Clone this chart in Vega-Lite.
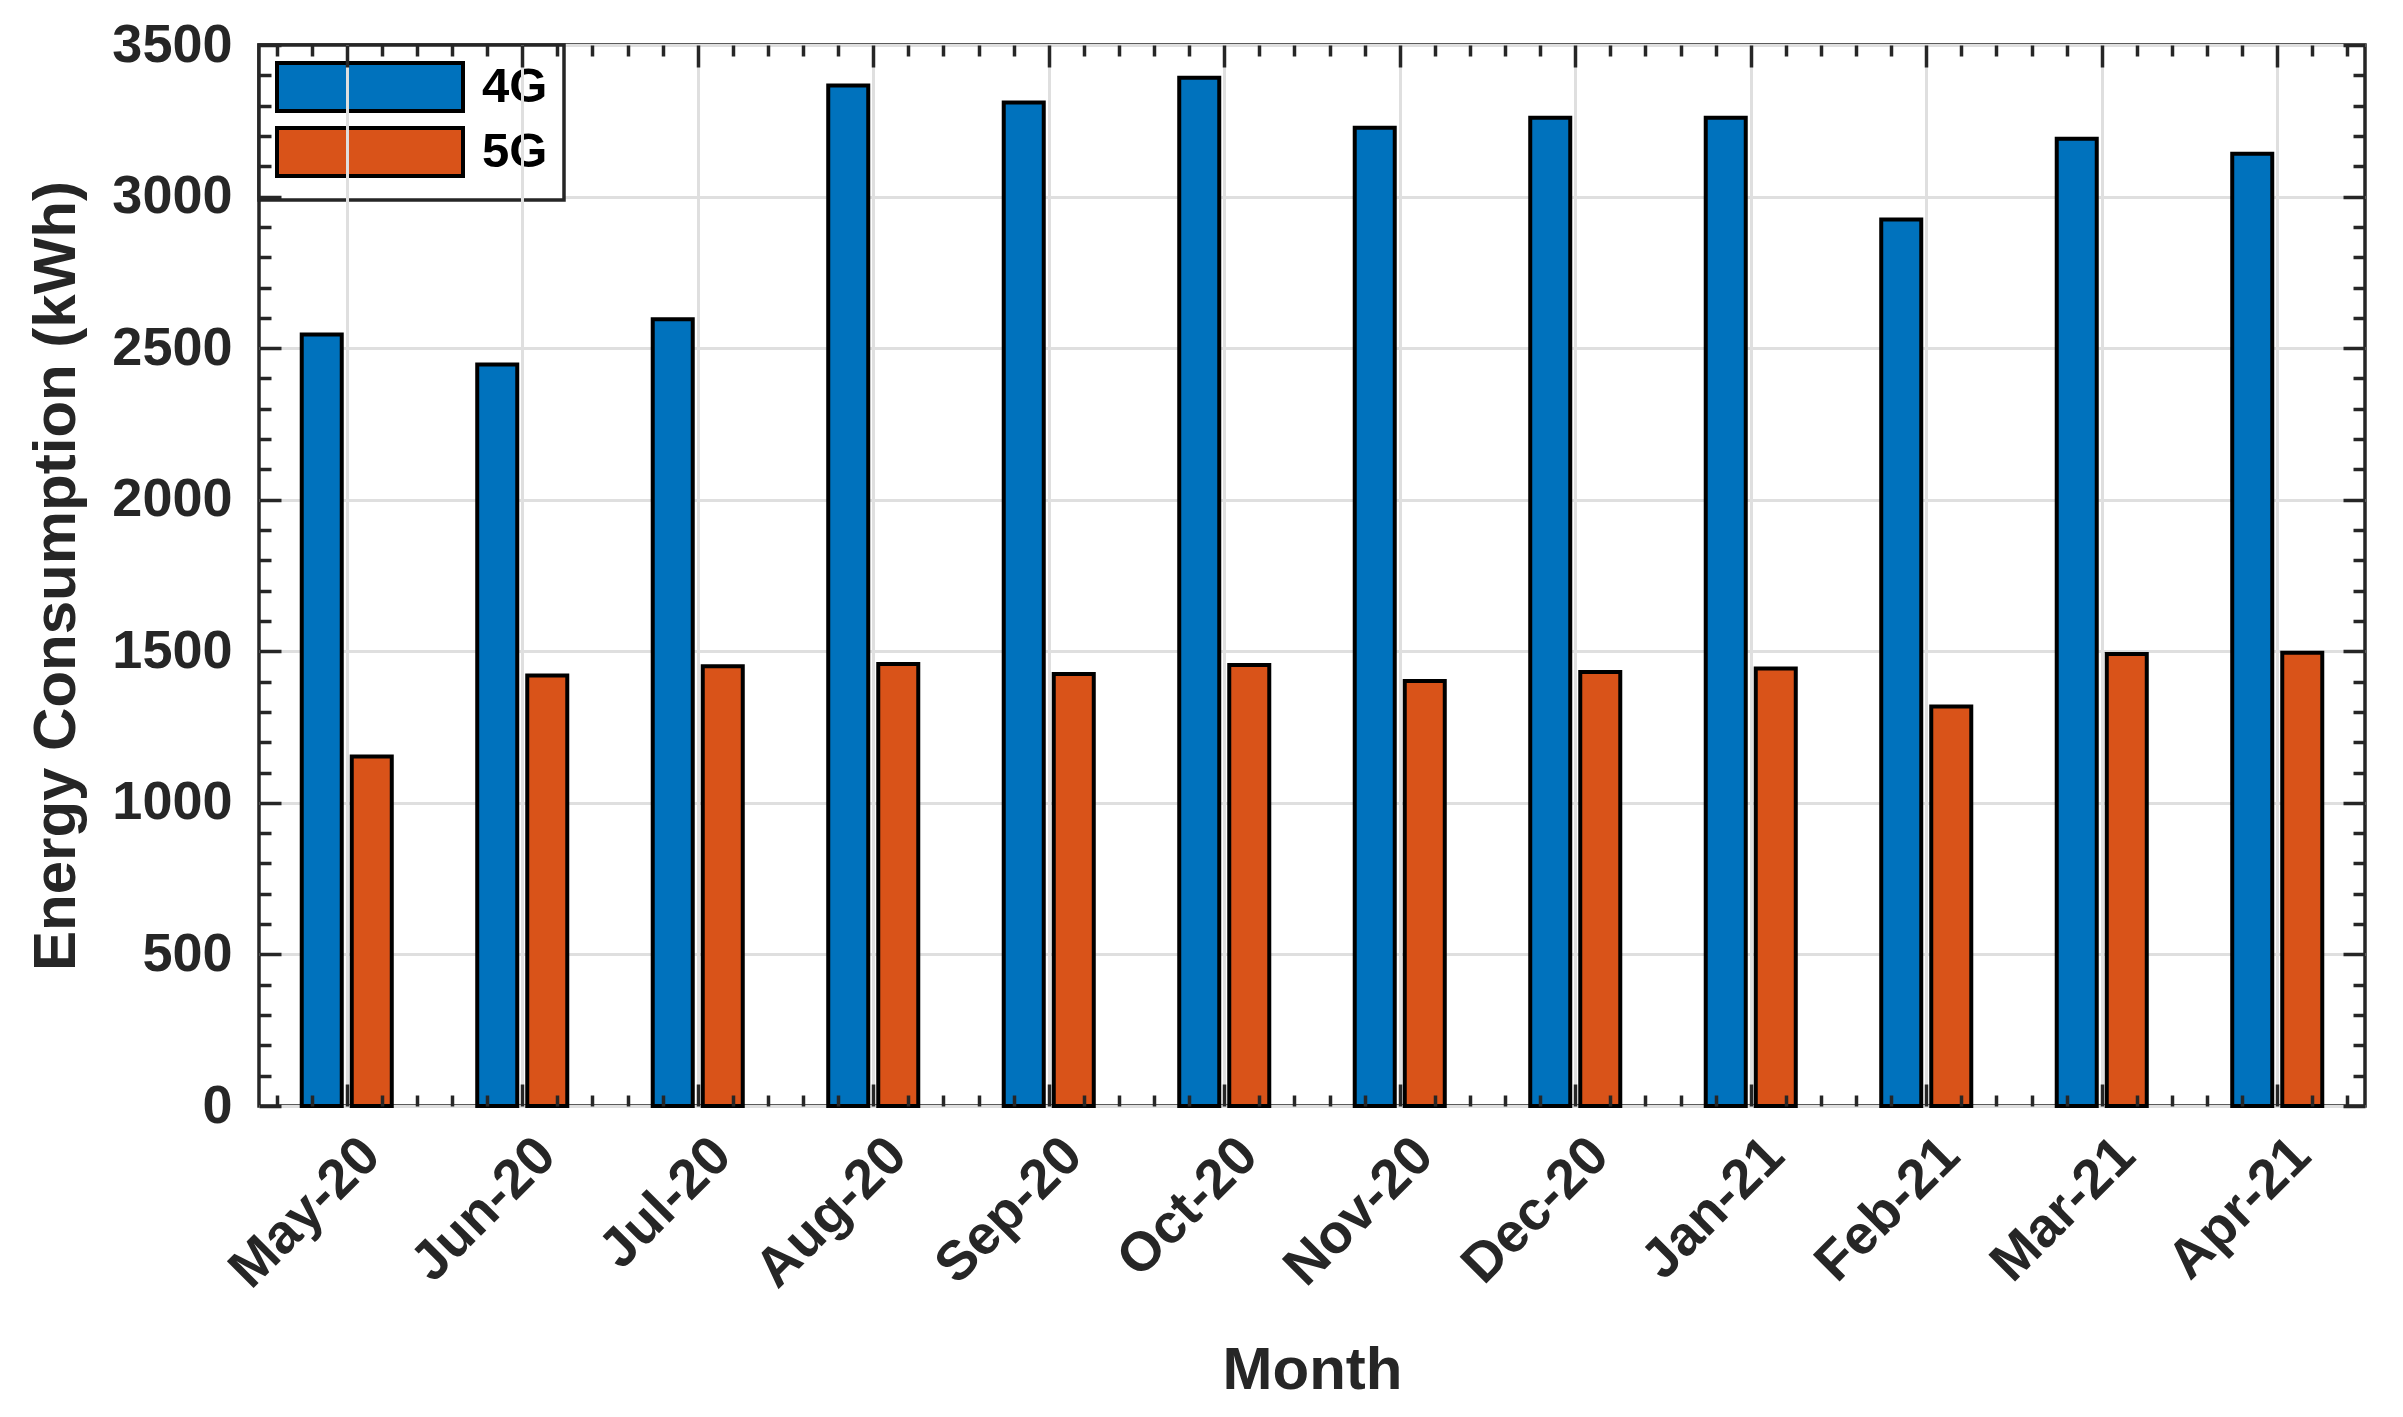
{
  "$schema": "https://vega.github.io/schema/vega-lite/v6.json",
  "width": 2106,
  "height": 1061,
  "autosize": {"type": "none"},
  "padding": {"left": 259, "top": 45, "right": 38, "bottom": 311},
  "background": "white",
  "config": {
    "font": "Liberation Sans",
    "view": {"stroke": "#262626", "strokeWidth": 3.5},
    "axis": {
      "labelFont": "Liberation Sans", "titleFont": "Liberation Sans",
      "labelFontWeight": "bold", "titleFontWeight": "bold",
      "labelColor": "#262626", "titleColor": "#262626",
      "tickColor": "#262626", "tickWidth": 3.5, "domain": false,
      "gridColor": "#dfdfdf", "gridWidth": 3
    },
    "legend": {"strokeWidth": 3.5}
  },
  "data": {"values": [
    {"month": "May-20", "tech": "4G", "value": 2545},
    {"month": "May-20", "tech": "5G", "value": 1153},
    {"month": "Jun-20", "tech": "4G", "value": 2446},
    {"month": "Jun-20", "tech": "5G", "value": 1420},
    {"month": "Jul-20", "tech": "4G", "value": 2595},
    {"month": "Jul-20", "tech": "5G", "value": 1451},
    {"month": "Aug-20", "tech": "4G", "value": 3366},
    {"month": "Aug-20", "tech": "5G", "value": 1458},
    {"month": "Sep-20", "tech": "4G", "value": 3310},
    {"month": "Sep-20", "tech": "5G", "value": 1425},
    {"month": "Oct-20", "tech": "4G", "value": 3392},
    {"month": "Oct-20", "tech": "5G", "value": 1455},
    {"month": "Nov-20", "tech": "4G", "value": 3227},
    {"month": "Nov-20", "tech": "5G", "value": 1402},
    {"month": "Dec-20", "tech": "4G", "value": 3260},
    {"month": "Dec-20", "tech": "5G", "value": 1432},
    {"month": "Jan-21", "tech": "4G", "value": 3260},
    {"month": "Jan-21", "tech": "5G", "value": 1443},
    {"month": "Feb-21", "tech": "4G", "value": 2924},
    {"month": "Feb-21", "tech": "5G", "value": 1318},
    {"month": "Mar-21", "tech": "4G", "value": 3191},
    {"month": "Mar-21", "tech": "5G", "value": 1491},
    {"month": "Apr-21", "tech": "4G", "value": 3141},
    {"month": "Apr-21", "tech": "5G", "value": 1495}
  ]},
  "layer": [
    {
      "mark": {"type": "bar", "stroke": "black", "strokeWidth": 4},
      "encoding": {
        "x": {
          "field": "month", "type": "nominal", "sort": null,
          "scale": {"paddingInner": 0.487, "paddingOuter": 0.2435},
          "axis": {
            "title": "Month", "titleFontSize": 60, "titlePadding": 44,
            "labelFontSize": 55, "labelAngle": -45, "labelAlign": "right", "labelBaseline": "middle",
            "labelOffset": 24, "labelPadding": 40, "labelLimit": 0, "ticks": false, "grid": false, "domain": false
          }
        },
        "xOffset": {"field": "tech", "type": "nominal", "scale": {"paddingInner": 0.2, "paddingOuter": 0}},
        "y": {
          "field": "value", "type": "quantitative",
          "scale": {"domain": [0, 3500], "nice": false},
          "axis": {
            "title": "Energy Consumption (kWh)", "titleFontSize": 60, "titlePadding": 24,
            "values": [0, 500, 1000, 1500, 2000, 2500, 3000, 3500], "format": "d",
            "labelFontSize": 54, "labelPadding": 27, "ticks": false, "grid": true, "domain": false, "labelOverlap": false
          }
        },
        "color": {
          "field": "tech", "type": "nominal",
          "scale": {"domain": ["4G", "5G"], "range": ["#0072BD", "#D95319"]},
          "legend": {
            "title": null, "orient": "top-left", "offset": 0, "padding": 16,
            "fillColor": "white", "strokeColor": "#262626", "cornerRadius": 0,
            "symbolType": "M-1,-1H6.75V1H-1Z", "symbolSize": 2304,
            "symbolStrokeColor": "black", "symbolStrokeWidth": 4, "symbolOpacity": 1,
            "labelFont": "Liberation Sans", "labelFontWeight": "bold", "labelFontSize": 49,
            "labelColor": "black", "labelOffset": 155, "rowPadding": 1
          }
        }
      }
    },
    {
      "mark": {"type": "rule", "opacity": 0},
      "encoding": {
        "x": {
          "datum": 1, "type": "quantitative",
          "scale": {"domain": [0.5, 12.5], "nice": false, "zero": false},
          "axis": {
            "orient": "bottom", "title": null, "labels": false, "domain": false, "zindex": 1,
            "values": [0.6,0.8,1,1.2,1.4,1.6,1.8,2,2.2,2.4,2.6,2.8,3,3.2,3.4,3.6,3.8,4,4.2,4.4,4.6,4.8,5,5.2,5.4,5.6,5.8,6,6.2,6.4,6.6,6.8,7,7.2,7.4,7.6,7.8,8,8.2,8.4,8.6,8.8,9,9.2,9.4,9.6,9.8,10,10.2,10.4,10.6,10.8,11,11.2,11.4,11.6,11.8,12,12.2,12.4],
            "tickSize": {"condition": {"test": "abs(datum.value - round(datum.value)) < 0.01", "value": -22}, "value": -11},
            "grid": true,
            "gridOpacity": {"condition": {"test": "abs(datum.value - round(datum.value)) < 0.01", "value": 1}, "value": 0}
          }
        }
      }
    },
    {
      "mark": {"type": "rule", "opacity": 0},
      "encoding": {
        "x": {
          "datum": 1, "type": "quantitative",
          "scale": {"domain": [0.5, 12.5], "nice": false, "zero": false},
          "axis": {
            "orient": "top", "title": null, "labels": false, "domain": false, "zindex": 1, "grid": false,
            "values": [0.6,0.8,1,1.2,1.4,1.6,1.8,2,2.2,2.4,2.6,2.8,3,3.2,3.4,3.6,3.8,4,4.2,4.4,4.6,4.8,5,5.2,5.4,5.6,5.8,6,6.2,6.4,6.6,6.8,7,7.2,7.4,7.6,7.8,8,8.2,8.4,8.6,8.8,9,9.2,9.4,9.6,9.8,10,10.2,10.4,10.6,10.8,11,11.2,11.4,11.6,11.8,12,12.2,12.4],
            "tickSize": {"condition": {"test": "abs(datum.value - round(datum.value)) < 0.01", "value": -22}, "value": -11}
          }
        }
      }
    },
    {
      "mark": {"type": "rule", "opacity": 0},
      "encoding": {
        "y": {
          "datum": 0, "type": "quantitative",
          "axis": {
            "orient": "right", "title": null, "labels": false, "domain": false, "zindex": 1, "grid": false,
            "values": [0,100,200,300,400,500,600,700,800,900,1000,1100,1200,1300,1400,1500,1600,1700,1800,1900,2000,2100,2200,2300,2400,2500,2600,2700,2800,2900,3000,3100,3200,3300,3400,3500],
            "tickSize": {"condition": {"test": "datum.value % 500 === 0", "value": -22}, "value": -12}
          }
        }
      }
    },
    {
      "mark": {"type": "rule", "opacity": 0},
      "encoding": {
        "y": {
          "datum": 0, "type": "quantitative",
          "axis": {
            "orient": "left", "title": null, "labels": false, "domain": false, "zindex": 1, "grid": false,
            "values": [0,100,200,300,400,500,600,700,800,900,1000,1100,1200,1300,1400,1500,1600,1700,1800,1900,2000,2100,2200,2300,2400,2500,2600,2700,2800,2900,3000,3100,3200,3300,3400,3500],
            "tickSize": {"condition": {"test": "datum.value % 500 === 0", "value": -22}, "value": -12}
          }
        }
      }
    }
  ],
  "resolve": {"scale": {"x": "independent"}, "axis": {"x": "independent", "y": "independent"}}
}
